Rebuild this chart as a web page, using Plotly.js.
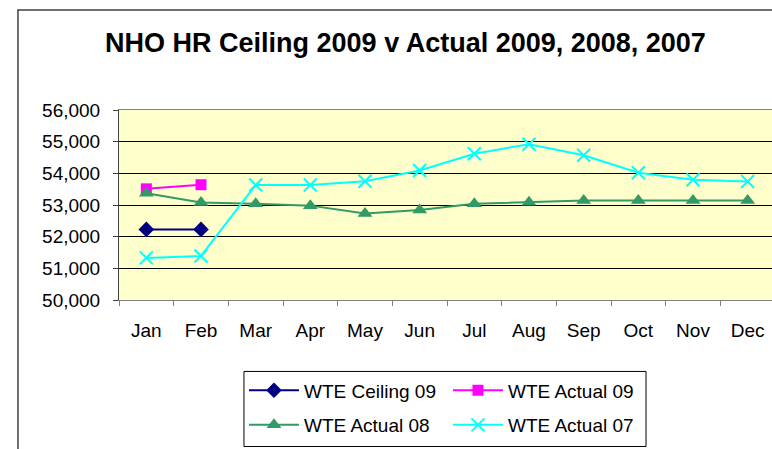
<!DOCTYPE html>
<html>
<head>
<meta charset="utf-8">
<script src="https://cdn.plot.ly/plotly-3.0.1.min.js"></script>
<style>
html,body{margin:0;padding:0;overflow:hidden;background:#fff;}
#chart{width:775px;height:449px;}
</style>
</head>
<body>
<div id="chart"></div>
<script>
const months = ["Jan","Feb","Mar","Apr","May","Jun","Jul","Aug","Sep","Oct","Nov","Dec"];
const ceiling09 = [52230, 52230];
const actual09 = [53510, 53640];
const actual08 = [53370, 53080, 53040, 52980, 52730, 52840, 53040, 53090, 53140, 53140, 53140, 53140];
const actual07 = [51330, 51390, 53630, 53630, 53750, 54090, 54620, 54920, 54570, 54020, 53800, 53740];
const yTicks = [50000, 51000, 52000, 53000, 54000, 55000, 56000];

const FONT = "Liberation Sans, Arial, sans-serif";

const traces = [
  {x: months.slice(0, ceiling09.length), y: ceiling09, name: "WTE Ceiling 09", mode: "lines+markers", legend: "legend",
   line: {color: "#000080", width: 2}, marker: {symbol: "diamond", size: 12, color: "#000080"}},
  {x: months.slice(0, actual09.length), y: actual09, name: "WTE Actual 09", mode: "lines+markers", legend: "legend",
   line: {color: "#FF00FF", width: 2}, marker: {symbol: "square", size: 11, color: "#FF00FF"}},
  {x: months, y: actual08, name: "WTE Actual 08", mode: "lines+markers", legend: "legend2",
   line: {color: "#339966", width: 2}, marker: {symbol: "triangle-up", size: 13, color: "#339966"}},
  {x: months, y: actual07, name: "WTE Actual 07", mode: "lines+markers", legend: "legend2",
   line: {color: "#00FFFF", width: 2}, marker: {symbol: "x-thin-open", size: 13, color: "#00FFFF", line: {color: "#00FFFF", width: 2}}}
];

function legendRow(yTop) {
  return {orientation: "h", xref: "paper", yref: "paper", x: 0.1905, y: yTop,
          xanchor: "left", yanchor: "top", bgcolor: "rgba(0,0,0,0)",
          borderwidth: 0, entrywidth: 139, entrywidthmode: "pixels",
          itemwidth: 50, traceorder: "normal",
          font: {family: FONT, size: 19, color: "#000"}};
}

const layout = {
  width: 775, height: 449,
  margin: {l: 119, r: 0, t: 110, b: 149},
  paper_bgcolor: "#FFFFFF",
  plot_bgcolor: "#FFFFCC",
  font: {family: FONT, color: "#000000", size: 19},
  title: {text: "<b>NHO HR Ceiling 2009 v Actual 2009, 2008, 2007</b>",
          font: {family: FONT, size: 27, color: "#000000"},
          xref: "paper", x: 0.4367, xanchor: "center",
          yref: "container", y: 0.906, yanchor: "middle"},
  xaxis: {type: "category", categoryorder: "array", categoryarray: months,
          range: [-0.5, 11.5], showgrid: false, zeroline: false,
          showline: true, linecolor: "#808080", linewidth: 1, mirror: true,
          ticks: "outside", tickson: "boundaries", ticklen: 5, tickcolor: "#808080",
          ticklabelstandoff: 13, tickfont: {family: FONT, size: 19, color: "#000"}},
  yaxis: {range: [50000, 56000], tickvals: yTicks, tickformat: ",d",
          showgrid: true, gridcolor: "#000000", gridwidth: 1, zeroline: false,
          showline: true, linecolor: "#404040", linewidth: 1,
          ticks: "outside", ticklen: 5, tickcolor: "#404040",
          ticklabelstandoff: 9, tickfont: {family: FONT, size: 19, color: "#000"}},
  showlegend: true,
  legend: legendRow(-0.376),
  legend2: legendRow(-0.558),
  shapes: [
    {type: "rect", xref: "paper", yref: "paper", x0: -0.154, x1: 2, y0: -2, y1: 1.526,
     line: {color: "#404040", width: 1.5}, fillcolor: "rgba(0,0,0,0)", layer: "above"},
    {type: "rect", xref: "paper", yref: "paper", x0: 0.1905, x1: 0.8034, y0: -0.771, y1: -0.376,
     line: {color: "#000000", width: 1}, fillcolor: "rgba(0,0,0,0)", layer: "above"}
  ]
};

Plotly.newPlot("chart", traces, layout, {displayModeBar: false, staticPlot: true});
</script>
</body>
</html>
